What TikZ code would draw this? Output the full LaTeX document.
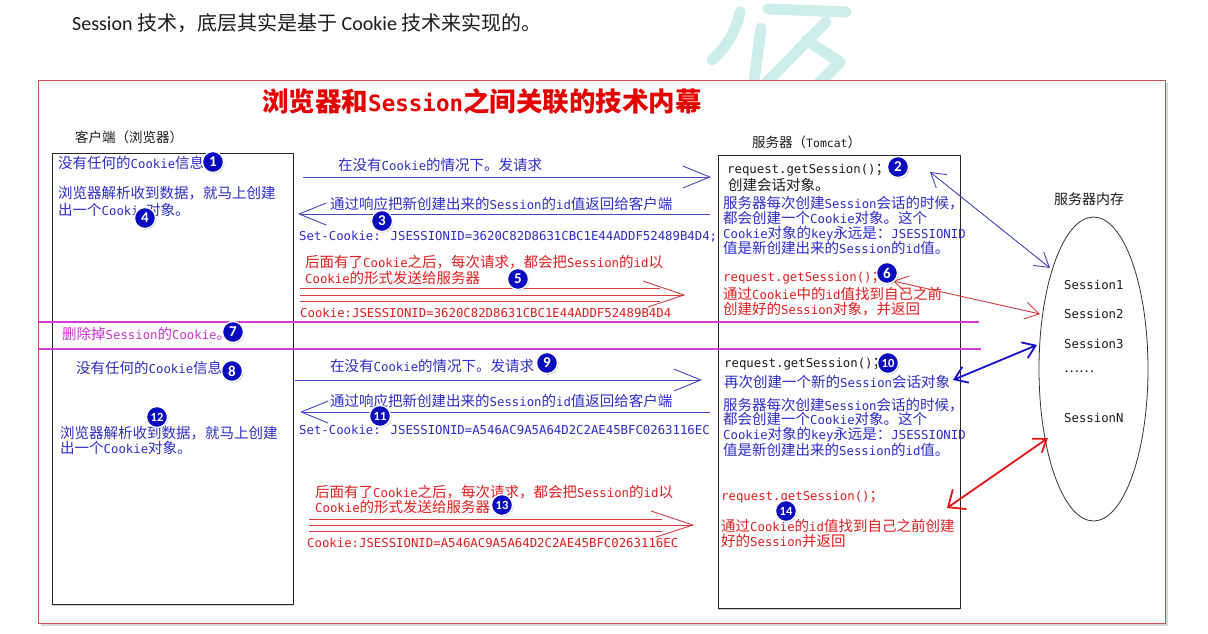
\documentclass[tikz,border=0pt]{standalone}
\usepackage{fontspec}
\usetikzlibrary{arrows.meta,shapes.geometric,shadows}
\setmainfont{DejaVu Sans Mono}[Scale=0.85]
\newfontfamily\monoL{DejaVu Sans Mono}[Scale=0.85]
\newfontfamily\carL{Carlito}
\newfontfamily\cjkF{Noto Sans CJK SC}
\let\curlat\monoL
\makeatletter
\def\setcjkrange#1#2{\count@=#1\relax
  \loop\XeTeXcharclass\count@=7 \ifnum\count@<#2\advance\count@\@ne\repeat}
\setcjkrange{"3000}{"303F}
\setcjkrange{"4E00}{"9FFF}
\setcjkrange{"FF00}{"FFEF}
\setcjkrange{"2026}{"2026}
\makeatother
\XeTeXinterchartoks 0 7 {\cjkF}
\XeTeXinterchartoks 4095 7 {\cjkF}
\XeTeXinterchartoks 7 0 {\curlat}
\XeTeXinterchartoks 4095 0 {\curlat}
\XeTeXinterchartokenstate=1
\definecolor{tblue}{RGB}{45,45,200}
\definecolor{tred}{RGB}{225,30,30}
\definecolor{tmag}{RGB}{200,50,210}
\definecolor{lmag}{RGB}{210,60,210}
\definecolor{ablue}{RGB}{70,70,190}
\definecolor{kblue}{RGB}{20,20,205}
\definecolor{ared}{RGB}{215,60,60}
\definecolor{kred}{RGB}{230,20,20}
\definecolor{frame}{RGB}{200,80,85}
\definecolor{cblue}{RGB}{10,10,190}
\definecolor{tdark}{RGB}{28,28,28}
\definecolor{wmark}{RGB}{205,238,232}
\begin{document}
\begin{tikzpicture}[x=1pt,y=-1pt,
  txt/.style={inner sep=0pt, anchor=west, font=\fontsize{14.5}{15.5}\selectfont},
  ml/.style={inner sep=0pt, anchor=north west, align=left, font=\fontsize{14.5}{#1}\selectfont},
  ml/.default=15.5,
  circ/.style={circle, fill=cblue, draw=white, line width=1.3pt, inner sep=0pt,
    minimum size=21pt, text=white,
    font={\let\curlat\relax\carL\bfseries\fontsize{15}{15}\selectfont},
    drop shadow={shadow xshift=1pt, shadow yshift=-1.2pt, opacity=.4}},
  circw/.style={circ, font={\let\curlat\relax\carL\bfseries\fontsize{12.5}{12.5}\selectfont}},
  boxa/.style={draw=black!85, line width=0.8pt, fill=white,
    drop shadow={shadow xshift=0pt, shadow yshift=-1.5pt, opacity=.35}},
  blarr/.style={draw=ablue, line width=0.9pt},
  rdarr/.style={draw=ared, line width=0.9pt},
  vtip/.style={-{Straight Barb[length=#1, width=22pt]}},
  mline/.style={draw=lmag, line width=1.3pt},
]
\useasboundingbox (0,0) rectangle (1208,633);
\fill[white] (0,0) rectangle (1208,633);

% watermark
\begin{scope}[draw=wmark, line width=11pt, line cap=round, line join=round]
  \draw (740,12) .. controls (735,35) and (725,48) .. (712,60);
  \draw (761,28) -- (754,82);
  \draw (768,9) -- (846,12);
  \draw (826,22) -- (765,84);
  \draw (806,40) -- (840,62) -- (818,84);
\end{scope}

% top sentence
\node[txt, text=tdark, font={\let\curlat\carL\carL\fontsize{20}{24}\selectfont}] (top) at (72,23)
  {Session 技术，底层其实是基于 Cookie 技术来实现的。};

% outer frame
\node[draw=frame, line width=1.3pt, fill=white, minimum width=1127pt, minimum height=543pt,
  anchor=north west, inner sep=0pt,
  drop shadow={shadow xshift=2pt, shadow yshift=-2.5pt, opacity=.3}] (frm) at (38,80) {};

% title
\node[txt, text=red!90!black, font=\fontsize{26.5}{28}\selectfont\bfseries] (title) at (262,101)
  {浏览器和Session之间关联的技术内幕};

% headings
\node[txt, text=tdark, font=\fontsize{13.5}{15}\selectfont] (hcli) at (75,137) {客户端（浏览器）};
\node[txt, text=tdark, font=\fontsize{13.5}{15}\selectfont] (hsrv) at (752,142) {服务器（Tomcat）};
\node[txt, text=tdark, font=\fontsize{14}{15}\selectfont] (hmem) at (1054,199) {服务器内存};

% boxes
\node[boxa, anchor=north west, minimum width=241pt, minimum height=451pt, inner sep=0pt] (cli) at (52,153) {};
\node[boxa, anchor=north west, minimum width=242pt, minimum height=453pt, inner sep=0pt] (srv) at (718,155) {};

% memory ellipse
\node[draw=black!80, line width=0.8pt, ellipse, minimum width=109pt, minimum height=304pt, inner sep=0pt] (mem) at (1093.5,369) {};
\node[txt, text=tdark] (s1) at (1064,285) {Session1};
\node[txt, text=tdark] (s2) at (1064,314) {Session2};
\node[txt, text=tdark] (s3) at (1064,344) {Session3};
\node[txt, text=tdark, font=\fontsize{14}{15}\selectfont] (sdots) at (1064,372) {……};
\node[txt, text=tdark] (sn) at (1064,418) {SessionN};

% magenta lines
\coordinate (m1a) at (38,322); \coordinate (m1b) at (979,322);
\coordinate (m2a) at (38,349); \coordinate (m2b) at (981,349);
\draw[mline] (m1a) -- (m1b);
\draw[mline] (m2a) -- (m2b);
\node[txt, text=tmag] (del) at (62,334) {删除掉Session的Cookie。};

% client texts
\node[txt, text=tblue] (l1) at (58,163) {没有任何的Cookie信息};
\node[ml=17, text=tblue] (l2) at (58,186) {浏览器解析收到数据，就马上创建\\出一个Cookie对象。};
\node[txt, text=tblue] (l4) at (76,368) {没有任何的Cookie信息};
\node[ml=15.5, text=tblue] (l5) at (60,426) {浏览器解析收到数据，就马上创建\\出一个Cookie对象。};

% middle top
\node[txt, text=tblue] (m1) at (338,165) {在没有Cookie的情况下。发请求};
\coordinate (a1s) at (303,177); \coordinate (a1e) at (711,177);
\draw[blarr, vtip=27pt] (a1s) -- (a1e);
\node[txt, text=tblue] (m2) at (330,204) {通过响应把新创建出来的Session的id值返回给客户端};
\coordinate (a2s) at (710,214); \coordinate (a2e) at (298,214);
\draw[blarr, vtip=27pt] (a2s) -- (a2e);
\node[txt, text=tblue] (m3) at (299,237) {Set-Cookie: JSESSIONID=3620C82D8631CBC1E44ADDF52489B4D4;};
\node[ml=16, text=tred] (m4) at (305,255) {后面有了Cookie之后，每次请求，都会把Session的id以\\Cookie的形式发送给服务器};
\coordinate (d1a) at (300,288); \coordinate (d1b) at (660,288);
\coordinate (d1c) at (300,301); \coordinate (d1d) at (660,301);
\coordinate (d1s) at (300,295); \coordinate (d1t) at (684,295);
\coordinate (d1u) at (643,281); \coordinate (d1l) at (648,307);
\draw[rdarr] (d1a) -- (d1b);
\draw[rdarr] (d1c) -- (d1d);
\draw[rdarr] (d1s) -- (d1t);
\draw[rdarr] (d1u) -- (d1t) -- (d1l);
\node[txt, text=tred] (m5) at (300,313) {Cookie:JSESSIONID=3620C82D8631CBC1E44ADDF52489B4D4};

% middle bottom
\node[txt, text=tblue] (m6) at (330,366) {在没有Cookie的情况下。发请求};
\coordinate (a3s) at (295,380); \coordinate (a3e) at (702,380);
\draw[blarr, vtip=27pt] (a3s) -- (a3e);
\node[txt, text=tblue] (m7) at (330,401) {通过响应把新创建出来的Session的id值返回给客户端};
\coordinate (a4s) at (710,412); \coordinate (a4e) at (300,412);
\draw[blarr, vtip=27pt] (a4s) -- (a4e);
\node[txt, text=tblue] (m8) at (299,430) {Set-Cookie: JSESSIONID=A546AC9A5A64D2C2AE45BFC0263116EC};
\node[ml=15.5, text=tred] (m9) at (315,485) {后面有了Cookie之后，每次请求，都会把Session的id以\\Cookie的形式发送给服务器};
\coordinate (d2a) at (309,519); \coordinate (d2b) at (662,519);
\coordinate (d2c) at (309,531); \coordinate (d2d) at (662,531);
\coordinate (d2s) at (309,525); \coordinate (d2t) at (693,525);
\coordinate (d2u) at (651,511); \coordinate (d2l) at (656,537);
\draw[rdarr] (d2a) -- (d2b);
\draw[rdarr] (d2c) -- (d2d);
\draw[rdarr] (d2s) -- (d2t);
\draw[rdarr] (d2u) -- (d2t) -- (d2l);
\node[txt, text=tred] (m10) at (307,543) {Cookie:JSESSIONID=A546AC9A5A64D2C2AE45BFC0263116EC};

% server top
\node[txt, text=tdark] (sv1) at (727,170) {request.getSession()；};
\node[txt, text=tdark] (sv2) at (728,185) {创建会话对象。};
\node[ml=15, text=tblue] (sv3) at (723,196) {服务器每次创建Session会话的时候，\\都会创建一个Cookie对象。这个\\Cookie对象的key永远是：JSESSIONID\\值是新创建出来的Session的id值。};
\node[txt, text=tred] (sv4) at (723,278) {request.getSession()；};
\node[ml=15.5, text=tred] (sv5) at (723,287) {通过Cookie中的id值找到自己之前\\创建好的Session对象，并返回};

% server bottom
\node[txt, text=tdark] (sv6) at (724,364) {request.getSession()；};
\node[txt, text=tblue] (sv7) at (724,382) {再次创建一个新的Session会话对象};
\node[ml=14.5, text=tblue] (sv8) at (723,398) {服务器每次创建Session会话的时候，\\都会创建一个Cookie对象。这个\\Cookie对象的key永远是：JSESSIONID\\值是新创建出来的Session的id值。};
\node[txt, text=tred] (sv9) at (721,497) {request.getSession()；};
\node[ml=15.5, text=tred] (sv10) at (721,519) {通过Cookie的id值找到自己之前创建\\好的Session并返回};

% right connectors
\coordinate (b1a) at (930,172); \coordinate (b1b) at (1050,268);
\draw[draw=ablue, line width=0.9pt, {Straight Barb[length=14pt,width=17pt]}-{Straight Barb[length=14pt,width=17pt]}] (b1a) -- (b1b);
\coordinate (r1a) at (893,281); \coordinate (r1b) at (1040,314);
\draw[draw=ared, line width=0.9pt, {Straight Barb[length=14pt,width=17pt]}-{Straight Barb[length=14pt,width=17pt]}] (r1a) -- (r1b);
\coordinate (b2a) at (953,380); \coordinate (b2b) at (1037,345);
\draw[draw=kblue, line width=1.8pt, {Straight Barb[length=12pt,width=17pt]}-{Straight Barb[length=12pt,width=17pt]}] (b2a) -- (b2b);
\coordinate (r2a) at (947,508); \coordinate (r2b) at (1048,438);
\draw[draw=kred, line width=1.8pt, {Straight Barb[length=14pt,width=24pt]}-{Straight Barb[length=12pt,width=17pt]}] (r2a) -- (r2b);

% numbered circles
\node[circ] (c1) at (213,162) {1};
\node[circ] (c2) at (898,167) {2};
\node[circ] (c3) at (382,221) {3};
\node[circ] (c4) at (145,218) {4};
\node[circ] (c5) at (518,279) {5};
\node[circ] (c6) at (887,273) {6};
\node[circ] (c7) at (233,332) {7};
\node[circ] (c8) at (232,371) {8};
\node[circ] (c9) at (547,363) {9};
\node[circw] (c10) at (888,363) {10};
\node[circw] (c11) at (380,416) {11};
\node[circw] (c12) at (157,417) {12};
\node[circw] (c13) at (502,505) {13};
\node[circw] (c14) at (786,511) {14};
\end{tikzpicture}
\end{document}
